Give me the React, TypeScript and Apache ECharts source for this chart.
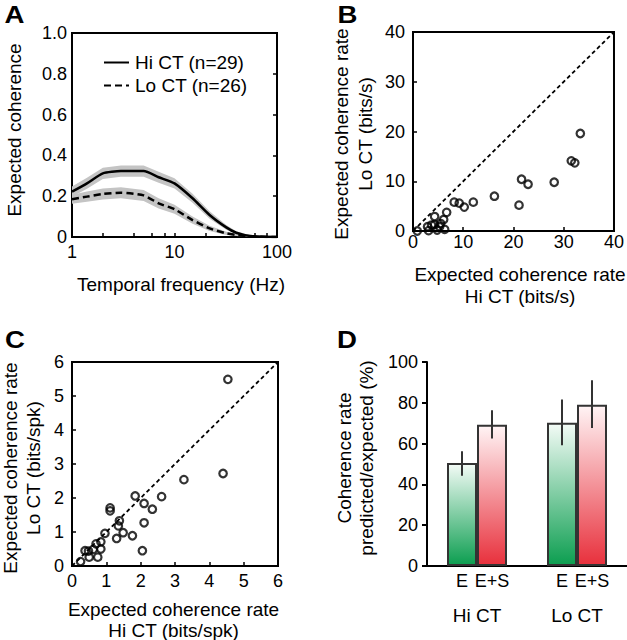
import React, { useEffect, useRef } from "react";
import * as echarts from "echarts";

// ---------- Panel A: expected coherence vs temporal frequency ----------
const freqHz = [1, 1.4, 2, 3, 5, 7, 10, 15, 22, 32, 40, 55, 100];
const hiCoh = [0.222, 0.263, 0.312, 0.323, 0.323, 0.293, 0.263, 0.19, 0.108, 0.047, 0.021, 0.005, 0];
const hiSem = [0.025, 0.027, 0.028, 0.028, 0.028, 0.027, 0.025, 0.022, 0.018, 0.012, 0.007, 0.003, 0.002];
const loCoh = [0.185, 0.198, 0.211, 0.217, 0.204, 0.165, 0.136, 0.083, 0.042, 0.018, 0.01, 0.002, 0];
const loSem = [0.022, 0.025, 0.027, 0.027, 0.027, 0.025, 0.022, 0.018, 0.013, 0.008, 0.005, 0.002, 0.001];
const freqTicks = [1, 2, 4, 6, 8, 10, 20, 40, 60, 80, 100];
const hiName = "Hi CT (n=29)";
const loName = "Lo CT (n=26)";

// ---------- Panel B: coherence rate (bits/s) ----------
const hiRateBits = [0.85, 2.9, 3.1, 3.7, 4.3, 4.3, 4.8, 5.3, 5.5, 6.1, 6.3, 6.7, 8.2, 9.2, 10.2, 12.0, 16.2, 21.1, 21.6, 22.9, 28.1, 31.5, 32.2, 33.3];
const loRateBits = [0, 0.87, 0.07, 1.2, 2.9, 1.3, 0.2, 0.87, 1.5, 2.3, 0.33, 3.75, 5.8, 5.6, 4.8, 5.8, 7.0, 5.2, 10.4, 9.4, 9.8, 14.1, 13.7, 19.6];
const rateRange = [0, 40];

// ---------- Panel C: coherence rate (bits/spk) ----------
const hiSpk = [0.25, 0.38, 0.48, 0.5, 0.62, 0.7, 0.75, 0.84, 0.84, 0.96, 1.11, 1.11, 1.3, 1.35, 1.38, 1.49, 1.76, 1.84, 2.05, 2.1, 2.1, 2.34, 2.61, 3.26, 4.4, 4.54];
const loSpk = [0.13, 0.45, 0.44, 0.26, 0.49, 0.65, 0.26, 0.71, 0.5, 0.96, 1.71, 1.62, 0.81, 1.18, 1.33, 0.98, 0.89, 2.06, 0.45, 1.27, 1.84, 1.67, 2.04, 2.54, 2.72, 5.49];
const spkRange = [0, 6];

// ---------- Panel D: predicted / expected ----------
const groups = ["Hi CT", "Lo CT"];
const eMean = [50.5, 70.2];
const eLow = [44.2, 59.2];
const eHigh = [56.3, 81.6];
const esMean = [69.3, 79.1];
const esLow = [62.5, 67.7];
const esHigh = [76.3, 91.0];

const FONT = "'Liberation Sans', Arial, Helvetica, sans-serif";
const tickText = { color: "#000", fontFamily: FONT, fontSize: 18 };
const tickLine = { color: "#000", width: 1.5 };

function bandItem(mean: number[], sem: number[], fill: string) {
  return {
    type: "custom",
    xAxisIndex: 0,
    yAxisIndex: 0,
    silent: true,
    clip: true,
    z: 1,
    data: freqHz.map((f, i) => [f, Math.max(0, mean[i] - sem[i]), mean[i] + sem[i]]),
    encode: { x: 0, y: [1, 2] },
    renderItem: (params: any, api: any) => {
      if (params.dataIndex !== 0) return null;
      const top = freqHz.map((f, i) => api.coord([f, mean[i] + sem[i]]));
      const bot = freqHz.map((f, i) => api.coord([f, Math.max(0, mean[i] - sem[i])])).reverse();
      return {
        type: "polygon",
        shape: { points: top.concat(bot) },
        style: { fill, stroke: "none" },
      };
    },
  };
}

function errItem(low: number[], high: number[], offset: number) {
  return {
    type: "custom",
    xAxisIndex: 3,
    yAxisIndex: 4,
    silent: true,
    z: 5,
    data: groups.map((g, i) => [i, low[i], high[i]]),
    encode: { x: 0, y: [1, 2] },
    renderItem: (params: any, api: any) => {
      const t = api.coord([api.value(0), api.value(2)]);
      const b = api.coord([api.value(0), api.value(1)]);
      const x = t[0] + offset;
      return {
        type: "line",
        shape: { x1: x, y1: t[1], x2: x, y2: b[1] },
        style: { stroke: "#333", lineWidth: 2 },
      };
    },
  };
}

function titleText(text: string, x: number, y: number, rotated: boolean, lineHeight = 22) {
  return {
    type: "text",
    x,
    y,
    rotation: rotated ? Math.PI / 2 : 0,
    silent: true,
    style: {
      text,
      fill: "#000",
      fontFamily: FONT,
      fontSize: 19,
      lineHeight,
      align: "center",
      verticalAlign: "middle",
    },
  };
}

function panelLetter(text: string, x: number, y: number) {
  return {
    type: "text",
    x,
    y,
    scaleX: 1.2,
    silent: true,
    style: {
      text,
      fill: "#000",
      fontFamily: FONT,
      fontSize: 23,
      fontWeight: "bold",
      align: "center",
      verticalAlign: "middle",
    },
  };
}

const option: any = {
  animation: false,
  backgroundColor: "#fff",
  textStyle: { fontFamily: FONT },
  legend: {
    data: [hiName, loName],
    left: 98,
    top: 48,
    orient: "vertical",
    itemWidth: 25,
    itemHeight: 14,
    itemGap: 4,
    selectedMode: false,
    itemStyle: { color: "rgba(0,0,0,0)", borderWidth: 0, opacity: 0 },
    textStyle: { color: "#000", fontFamily: FONT, fontSize: 19, padding: [0, 0, 0, 1] },
  },
  grid: [
    { left: 72, top: 33, width: 205, height: 204, show: true, borderColor: "#000", borderWidth: 2, backgroundColor: "transparent" },
    { left: 413, top: 32, width: 204, height: 199, show: true, borderColor: "#000", borderWidth: 2, backgroundColor: "transparent" },
    { left: 72, top: 362, width: 206, height: 204, show: true, borderColor: "#000", borderWidth: 2, backgroundColor: "transparent" },
    { left: 427, top: 362, width: 206, height: 204 },
  ],
  xAxis: [
    {
      gridIndex: 0,
      type: "log",
      logBase: 10,
      min: 1,
      max: 100,
      axisLine: { show: false },
      axisTick: { show: true, inside: true, length: 4, lineStyle: tickLine, customValues: freqTicks },
      axisLabel: { ...tickText, margin: 6 },
      splitLine: { show: false },
    },
    {
      gridIndex: 1,
      type: "value",
      min: rateRange[0],
      max: rateRange[1],
      interval: 10,
      axisLine: { show: false },
      axisTick: { show: true, inside: true, length: 4, lineStyle: tickLine },
      axisLabel: { ...tickText, margin: 2 },
      splitLine: { show: false },
    },
    {
      gridIndex: 2,
      type: "value",
      min: spkRange[0],
      max: spkRange[1],
      interval: 1,
      axisLine: { show: false },
      axisTick: { show: true, inside: true, length: 4, lineStyle: tickLine },
      axisLabel: { ...tickText, margin: 6 },
      splitLine: { show: false },
    },
    {
      gridIndex: 3,
      type: "category",
      data: groups,
      axisLine: { show: true, lineStyle: { color: "#000", width: 2 } },
      axisTick: { show: false },
      axisLabel: { ...tickText, fontSize: 19, margin: 40 },
      splitLine: { show: false },
    },
  ],
  yAxis: [
    {
      gridIndex: 0,
      type: "value",
      min: 0,
      max: 1,
      interval: 0.2,
      axisLine: { show: false },
      axisTick: { show: false },
      axisLabel: { ...tickText, margin: 5, formatter: (v: number) => (v === 0 ? "0" : v.toFixed(1)) },
      splitLine: { show: false },
    },
    {
      gridIndex: 0,
      type: "value",
      position: "right",
      min: 0,
      max: 1,
      interval: 0.2,
      axisLine: { show: false },
      axisTick: { show: true, inside: true, length: 4, lineStyle: tickLine },
      axisLabel: { show: false },
      splitLine: { show: false },
    },
    {
      gridIndex: 1,
      type: "value",
      min: rateRange[0],
      max: rateRange[1],
      interval: 10,
      axisLine: { show: false },
      axisTick: { show: true, inside: true, length: 4, lineStyle: tickLine },
      axisLabel: { ...tickText, margin: 8 },
      splitLine: { show: false },
    },
    {
      gridIndex: 2,
      type: "value",
      min: spkRange[0],
      max: spkRange[1],
      interval: 1,
      axisLine: { show: false },
      axisTick: { show: true, inside: true, length: 4, lineStyle: tickLine },
      axisLabel: { ...tickText, margin: 8 },
      splitLine: { show: false },
    },
    {
      gridIndex: 3,
      type: "value",
      min: 0,
      max: 100,
      interval: 20,
      axisLine: { show: true, lineStyle: { color: "#000", width: 2 } },
      axisTick: { show: true, inside: false, length: 5, lineStyle: { color: "#000", width: 2 } },
      axisLabel: { ...tickText, margin: 9 },
      splitLine: { show: false },
    },
  ],
  series: [
    bandItem(hiCoh, hiSem, "#c4c4c4"),
    bandItem(loCoh, loSem, "#c4c4c4"),
    {
      name: hiName,
      type: "line",
      xAxisIndex: 0,
      yAxisIndex: 0,
      data: freqHz.map((f, i) => [f, hiCoh[i]]),
      symbol: "none",
      smooth: 0.2,
      z: 3,
      lineStyle: { color: "#000", width: 2.5, type: "solid" },
      itemStyle: { color: "#000" },
    },
    {
      name: loName,
      type: "line",
      xAxisIndex: 0,
      yAxisIndex: 0,
      data: freqHz.map((f, i) => [f, loCoh[i]]),
      symbol: "none",
      smooth: 0.2,
      z: 3,
      lineStyle: { color: "#000", width: 2.5, type: [7, 4] },
      itemStyle: { color: "#000" },
    },
    {
      type: "line",
      xAxisIndex: 1,
      yAxisIndex: 2,
      data: [[rateRange[0], rateRange[0]], [rateRange[1], rateRange[1]]],
      symbol: "none",
      silent: true,
      lineStyle: { color: "#000", width: 1.8, type: [4, 3] },
    },
    {
      type: "scatter",
      xAxisIndex: 1,
      yAxisIndex: 2,
      clip: false,
      data: hiRateBits.map((x, i) => [x, loRateBits[i]]),
      symbol: "circle",
      symbolSize: 7.5,
      itemStyle: { color: "rgba(0,0,0,0)", borderColor: "#000", borderWidth: 2.2 },
    },
    {
      type: "line",
      xAxisIndex: 2,
      yAxisIndex: 3,
      data: [[spkRange[0], spkRange[0]], [spkRange[1], spkRange[1]]],
      symbol: "none",
      silent: true,
      lineStyle: { color: "#000", width: 1.8, type: [4, 3] },
    },
    {
      type: "scatter",
      xAxisIndex: 2,
      yAxisIndex: 3,
      clip: false,
      data: hiSpk.map((x, i) => [x, loSpk[i]]),
      symbol: "circle",
      symbolSize: 7.5,
      itemStyle: { color: "rgba(0,0,0,0)", borderColor: "#000", borderWidth: 2.2 },
    },
    {
      name: "E",
      type: "bar",
      xAxisIndex: 3,
      yAxisIndex: 4,
      data: eMean,
      barWidth: 30,
      barGap: "0%",
      itemStyle: {
        color: new echarts.graphic.LinearGradient(0, 0, 0, 1, [
          { offset: 0, color: "#f3fbf6" },
          { offset: 1, color: "#0c9e50" },
        ]),
        borderColor: "#333",
        borderWidth: 2,
      },
      label: { show: true, position: "bottom", distance: 6, formatter: "{a}", color: "#000", fontFamily: FONT, fontSize: 18 },
    },
    {
      name: "E+S",
      type: "bar",
      xAxisIndex: 3,
      yAxisIndex: 4,
      data: esMean,
      barWidth: 30,
      barGap: "0%",
      itemStyle: {
        color: new echarts.graphic.LinearGradient(0, 0, 0, 1, [
          { offset: 0, color: "#fff4f5" },
          { offset: 1, color: "#e8303c" },
        ]),
        borderColor: "#333",
        borderWidth: 2,
      },
      label: { show: true, position: "bottom", distance: 6, formatter: "{a}", color: "#000", fontFamily: FONT, fontSize: 18 },
    },
    errItem(eLow, eHigh, -15),
    errItem(esLow, esHigh, 15),
  ],
  graphic: [
    panelLetter("A", 14.5, 15),
    panelLetter("B", 347.5, 15),
    panelLetter("C", 15, 340),
    panelLetter("D", 347, 340),
    titleText("Expected coherence", 14, 130, true),
    titleText("Temporal frequency (Hz)", 181, 284, false),
    titleText("Expected coherence rate\nLo CT (bits/s)", 353.5, 134, true, 24),
    titleText("Expected coherence rate\nHi CT (bits/s)", 520, 285, false, 22),
    titleText("Expected coherence rate\nLo CT (bits/spk)", 21.5, 468, true, 23),
    titleText("Expected coherence rate\nHi CT (bits/spk)", 173.5, 619.5, false, 21),
    titleText("Coherence rate\npredicted/expected (%)", 355, 458, true, 22),
  ],
};

export default function App() {
  const ref = useRef<HTMLDivElement>(null);
  useEffect(() => {
    if (!ref.current) return;
    const chart = echarts.init(ref.current, null, { renderer: "svg" });
    chart.setOption(option);
    return () => chart.dispose();
  }, []);
  return (
    <div
      ref={ref}
      style={{ position: "fixed", left: 0, top: 0, width: 627, height: 640, background: "#fff" }}
    />
  );
}
